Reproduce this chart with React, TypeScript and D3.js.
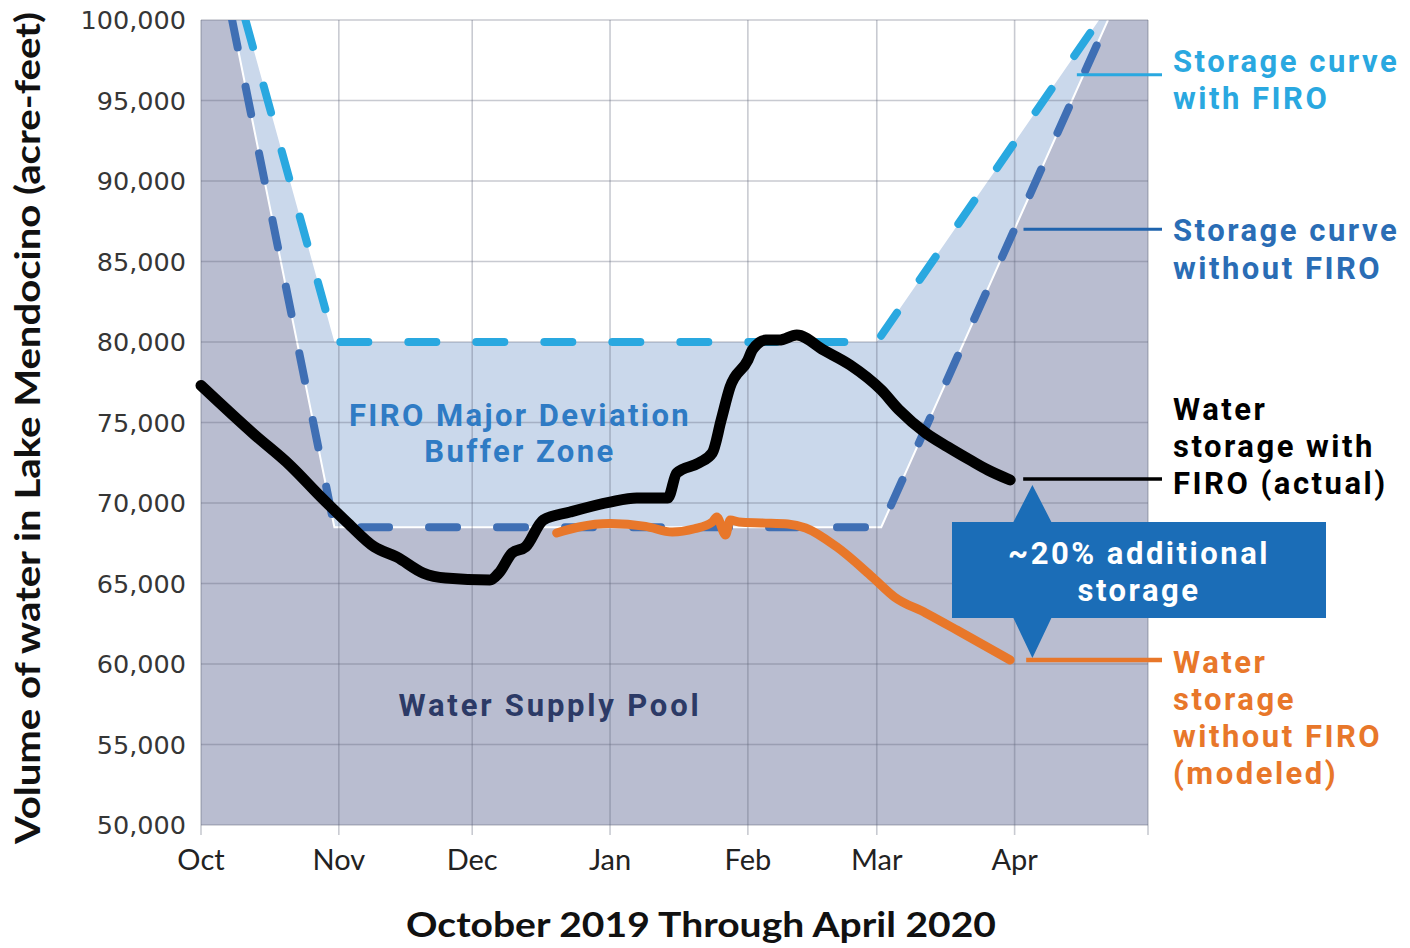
import React from 'react';
import * as d3 from 'd3';

const W = 1410;
const H = 948;

// axis
const monthLabels = ['Oct', 'Nov', 'Dec', 'Jan', 'Feb', 'Mar', 'Apr'];
const monthStarts = ['2019-10-01', '2019-11-01', '2019-12-01', '2020-01-01', '2020-02-01', '2020-03-01', '2020-04-01', '2020-05-01'];
const yTicks = [50000, 55000, 60000, 65000, 70000, 75000, 80000, 85000, 90000, 95000, 100000];

// storage curves (flood control rule curves)
const withoutFiroDates = ['2019-10-08', '2019-10-31', '2020-03-02', '2020-04-22'];
const withoutFiroValues = [100000, 68500, 68500, 100000];
const withFiroDates = ['2019-10-11', '2019-10-31', '2020-03-01', '2020-04-20'];
const withFiroValues = [100000, 80000, 80000, 100000];

// water storage with FIRO (actual)
const actualDates = [
  '2019-10-01', '2019-10-13', '2019-10-21', '2019-10-28', '2019-11-03', '2019-11-09', '2019-11-14',
  '2019-11-20', '2019-11-25', '2019-12-05', '2019-12-07', '2019-12-10', '2019-12-13', '2019-12-17',
  '2019-12-23', '2020-01-01', '2020-01-07', '2020-01-14', '2020-01-16', '2020-01-21', '2020-01-24',
  '2020-01-26', '2020-01-28', '2020-02-01', '2020-02-02', '2020-02-05', '2020-02-08', '2020-02-12',
  '2020-02-18', '2020-02-24', '2020-03-02', '2020-03-06', '2020-03-12', '2020-03-17', '2020-03-22',
  '2020-03-26', '2020-03-31',
];
const actualValues = [
  77300, 74250, 72350, 70370, 68760, 67270, 66650,
  65650, 65340, 65220, 65650, 66900, 67270, 68950,
  69440, 70060, 70310, 70310, 71860, 72490, 73110,
  75160, 77200, 78880, 79500, 80120, 80120, 80430,
  79500, 78570, 77020, 75780, 74350, 73480, 72670,
  72050, 71430,
];

// water storage without FIRO (modeled)
const modeledDates = [
  '2019-12-20', '2019-12-25', '2020-01-01', '2020-01-09', '2020-01-15', '2020-01-20', '2020-01-24',
  '2020-01-25', '2020-01-27', '2020-01-28', '2020-01-30', '2020-02-04', '2020-02-10', '2020-02-14',
  '2020-02-21', '2020-02-29', '2020-03-05', '2020-03-12', '2020-03-19', '2020-03-25', '2020-03-31',
];
const modeledValues = [
  68140, 68510, 68720, 68550, 68200, 68400, 68820,
  69130, 68010, 68950, 68820, 68760, 68700, 68450,
  67270, 65400, 64160, 63170, 62110, 61180, 60250,
];

const parse = d3.timeParse('%Y-%m-%d');
const toPts = (dates: string[], vals: number[]) => dates.map((d, i) => ({ date: parse(d) as Date, value: vals[i] }));

const LABEL_FONT = 'Lato, "Open Sans", sans-serif';
const NOTE_FONT = 'Roboto, Lato, sans-serif';

export default function App() {
  const x0 = 201, x1 = 1148, y0 = 20, y1 = 825;
  const x = d3.scaleTime().domain([parse(monthStarts[0]) as Date, parse(monthStarts[7]) as Date]).range([x0, x1]);
  const y = d3.scaleLinear().domain([50000, 100000]).range([y1, y0]);

  const withoutPts = toPts(withoutFiroDates, withoutFiroValues);
  const withPts = toPts(withFiroDates, withFiroValues);
  const actual = toPts(actualDates, actualValues);
  const modeled = toPts(modeledDates, modeledValues);

  const xy = (p: { date: Date; value: number }): [number, number] => [x(p.date), y(p.value)];

  // grey water supply pool: below the without-FIRO curve
  const poolPoly = [
    [x0, y0], ...withoutPts.map(xy), [x1, y0], [x1, y1], [x0, y1],
  ];
  // buffer zone: between the two curves
  const bufferPoly = [...withPts.map(xy), ...withoutPts.slice().reverse().map(xy)];
  const poly = (pts: number[][]) => 'M' + pts.map((p) => p.join(',')).join('L') + 'Z';

  const straight = d3.line<{ date: Date; value: number }>().x((d) => x(d.date)).y((d) => y(d.value));
  const smooth = d3.line<{ date: Date; value: number }>().x((d) => x(d.date)).y((d) => y(d.value)).curve(d3.curveMonotoneX);

  const lastActual = actual[actual.length - 1];
  const lastModeled = modeled[modeled.length - 1];
  const arrowX = x(parse('2020-04-05') as Date);
  const arrowTop = y(lastActual.value) + 5;
  const arrowBot = y(lastModeled.value) - 2;
  const boxL = 952, boxR = 1326, boxT = 522, boxB = 618, headW = 19;
  const arrowPath = `M${arrowX},${arrowTop}L${arrowX + headW},${boxT}L${boxR},${boxT}L${boxR},${boxB}L${arrowX + headW},${boxB}L${arrowX},${arrowBot}L${arrowX - headW},${boxB}L${boxL},${boxB}L${boxL},${boxT}L${arrowX - headW},${boxT}Z`;

  const leaderEnd = 1162;
  const textX = 1173;

  const gridColor = 'rgba(95,100,120,0.34)';

  return (
    <svg width={W} height={H} style={{ position: 'absolute', left: 0, top: 0, background: '#fff' }}>
      <defs>
        <clipPath id="plot">
          <rect x={x0} y={y0} width={x1 - x0} height={y1 - y0} />
        </clipPath>
      </defs>

      <g clipPath="url(#plot)">
        <path d={poly(poolPoly)} fill="#b9bdd0" />
        <path d={poly(bufferPoly)} fill="#cad8eb" />
        <path d={straight(withoutPts) || ''} fill="none" stroke="#ffffff" strokeWidth={2} />
      </g>

      {/* grid */}
      {yTicks.map((t) => (
        <line key={t} x1={x0} x2={x1} y1={y(t)} y2={y(t)} stroke={gridColor} strokeWidth={1.6} />
      ))}
      {monthStarts.map((m) => (
        <line key={m} x1={x(parse(m) as Date)} x2={x(parse(m) as Date)} y1={y0} y2={y1 + 10} stroke={gridColor} strokeWidth={1.6} />
      ))}

      {/* y tick labels */}
      {yTicks.map((t) => (
        <text key={t} x={186} y={y(t)} dy="0.36em" textAnchor="end" fontFamily='"DejaVu Sans", sans-serif' fontSize={25.5} fill="#363636">
          {d3.format(',')(t)}
        </text>
      ))}
      {/* x tick labels */}
      {monthLabels.map((m, i) => (
        <text key={m} x={x(parse(monthStarts[i]) as Date)} y={870} textAnchor="middle" fontFamily={LABEL_FONT} fontSize={29} fill="#222">
          {m}
        </text>
      ))}

      {/* axis titles */}
      <text x={701} y={937} textAnchor="middle" fontFamily={LABEL_FONT} fontWeight={700} fontSize={35} fill="#111" textLength={590} lengthAdjust="spacingAndGlyphs">
        October 2019 Through April 2020
      </text>
      <text transform="translate(40,428) rotate(-90)" textAnchor="middle" fontFamily={LABEL_FONT} fontWeight={700} fontSize={35} fill="#111" textLength={832} lengthAdjust="spacingAndGlyphs">
        Volume of water in Lake Mendocino (acre-feet)
      </text>

      {/* zone labels */}
      <g fontFamily={NOTE_FONT} fontWeight={700} fontSize={31} letterSpacing={2.4} textAnchor="middle">
        <text x={520} y={426} fill="#2f7bc4">FIRO Major Deviation</text>
        <text x={520} y={462} fill="#2f7bc4">Buffer Zone</text>
        <text x={550} y={716} fill="#2c3a66" letterSpacing={2.8}>Water Supply Pool</text>
      </g>

      {/* rule curves */}
      <g clipPath="url(#plot)" fill="none" strokeWidth={8} strokeLinecap="round" strokeLinejoin="round" strokeDasharray="28 40">
        <path d={straight(withoutPts) || ''} stroke="#3f6fb4" />
        <path d={straight(withPts) || ''} stroke="#29a8e0" />
      </g>

      {/* storage series */}
      <path d={smooth(modeled) || ''} fill="none" stroke="#e8772a" strokeWidth={9} strokeLinecap="round" strokeLinejoin="round" />
      <path d={smooth(actual) || ''} fill="none" stroke="#000" strokeWidth={11} strokeLinecap="round" strokeLinejoin="round" />

      {/* additional storage arrow */}
      <path d={arrowPath} fill="#1b6db7" />
      <g fontFamily={NOTE_FONT} fontWeight={700} fontSize={31} letterSpacing={2.5} fill="#fff" textAnchor="middle">
        <text x={1139} y={564}>~20% additional</text>
        <text x={1139} y={601}>storage</text>
      </g>

      {/* leaders */}
      <line x1={x(parse('2020-04-15') as Date)} x2={leaderEnd} y1={y(96600)} y2={y(96600)} stroke="#29a8e0" strokeWidth={3} />
      <line x1={x(parse('2020-04-03') as Date)} x2={leaderEnd} y1={y(87000)} y2={y(87000)} stroke="#1f63ad" strokeWidth={3} />
      <line x1={x(lastActual.date) + 13} x2={leaderEnd} y1={y(lastActual.value) - 1} y2={y(lastActual.value) - 1} stroke="#000" strokeWidth={3.5} />
      <line x1={x(lastModeled.date) + 16} x2={leaderEnd} y1={y(lastModeled.value)} y2={y(lastModeled.value)} stroke="#e8772a" strokeWidth={4.5} />

      {/* right-side labels */}
      <g fontFamily={NOTE_FONT} fontWeight={700} fontSize={31} letterSpacing={2.5}>
        <text x={textX} y={72} fill="#2aa8e0">Storage curve</text>
        <text x={textX} y={109} fill="#2aa8e0">with FIRO</text>
        <text x={textX} y={241} fill="#2a6db5">Storage curve</text>
        <text x={textX} y={279} fill="#2a6db5">without FIRO</text>
        <text x={textX} y={420} fill="#000">Water</text>
        <text x={textX} y={457} fill="#000">storage with</text>
        <text x={textX} y={494} fill="#000">FIRO (actual)</text>
        <text x={textX} y={673} fill="#e8772a">Water</text>
        <text x={textX} y={710} fill="#e8772a">storage</text>
        <text x={textX} y={747} fill="#e8772a">without FIRO</text>
        <text x={textX} y={784} fill="#e8772a">(modeled)</text>
      </g>
    </svg>
  );
}
